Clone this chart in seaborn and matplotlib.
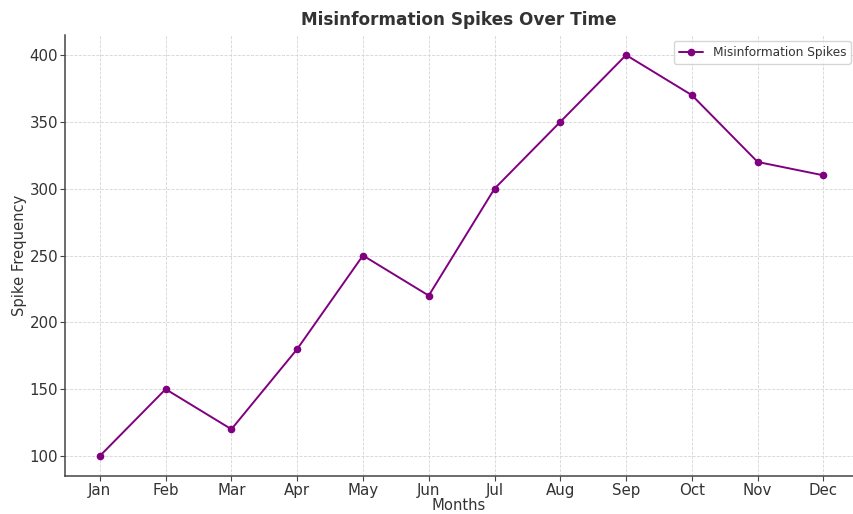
import matplotlib
matplotlib.use("Agg")
import matplotlib.pyplot as plt
import seaborn as sns
import pandas as pd

months = ["Jan", "Feb", "Mar", "Apr", "May", "Jun", "Jul", "Aug", "Sep", "Oct", "Nov", "Dec"]
spikes = [100, 150, 120, 180, 250, 220, 300, 350, 400, 370, 320, 310]

df = pd.DataFrame({"Month": months, "Spikes": spikes})

sns.set_style("ticks")
plt.rcParams["font.family"] = ["DejaVu Sans"]
plt.rcParams["text.color"] = "#333333"
plt.rcParams["axes.labelcolor"] = "#333333"
plt.rcParams["xtick.color"] = "#333333"
plt.rcParams["ytick.color"] = "#333333"

fig = plt.figure(figsize=(8.54, 5.14), dpi=100)
ax = fig.add_axes([65/854, 1 - 476/514, (853 - 65)/854, (476 - 35)/514])

sns.lineplot(data=df, x="Month", y="Spikes", marker="o", color="purple",
             markersize=5.5, markeredgewidth=0, linewidth=1.4,
             label="Misinformation Spikes", ax=ax, sort=False)

ax.set_xlim(-0.53, 11.45)
ax.set_ylim(85, 415)
ax.grid(True, linestyle="--", color="#d5d5d5", linewidth=0.6)
ax.set_axisbelow(True)
for s in ["top", "right"]:
    ax.spines[s].set_visible(False)
ax.spines["left"].set_color("#444444")
ax.spines["bottom"].set_color("#444444")
ax.spines["left"].set_linewidth(1.1)
ax.spines["bottom"].set_linewidth(1.1)
ax.tick_params(labelsize=10.8, length=3.5, pad=1.5, color="#444444")

ax.set_title("Misinformation Spikes Over Time", fontsize=12.2, fontweight="bold", color="#333333", pad=7)
ax.set_xlabel("Months", fontsize=10.6, labelpad=0)
ax.set_ylabel("Spike Frequency", fontsize=10.6, labelpad=2)
ax.legend(loc="upper right", fontsize=8.7, frameon=True, bbox_to_anchor=(1.005, 1.0))

fig.savefig("out.png", dpi=100)
